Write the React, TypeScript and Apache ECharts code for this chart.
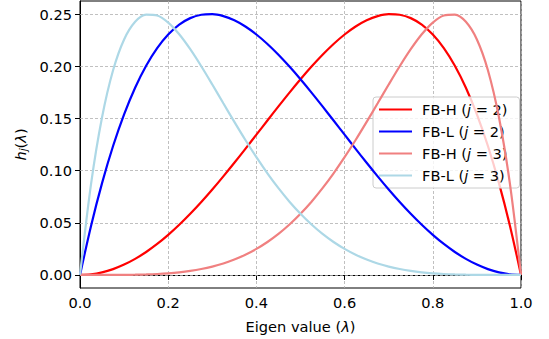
import React, { useEffect, useRef } from "react";
import * as echarts from "echarts";

const xs = [0, 0.025, 0.05, 0.075, 0.1, 0.125, 0.15, 0.175, 0.2, 0.225, 0.25, 0.275, 0.3, 0.325, 0.35, 0.375, 0.4, 0.425, 0.45, 0.475, 0.5, 0.525, 0.55, 0.575, 0.6, 0.625, 0.65, 0.675, 0.7, 0.725, 0.75, 0.775, 0.8, 0.825, 0.85, 0.875, 0.9, 0.925, 0.95, 0.975, 1];

const fbH2 = [0, 0.000625, 0.002494, 0.005593, 0.0099, 0.015381, 0.021994, 0.029687, 0.0384, 0.048062, 0.058594, 0.069906, 0.0819, 0.094468, 0.107494, 0.12085, 0.1344, 0.148, 0.161494, 0.174718, 0.1875, 0.199656, 0.210994, 0.221312, 0.2304, 0.238037, 0.243994, 0.248031, 0.2499, 0.249343, 0.246094, 0.239875, 0.2304, 0.217375, 0.200494, 0.179443, 0.1539, 0.123531, 0.087994, 0.046937, 0];

const fbL2 = [0, 0.046937, 0.087994, 0.123531, 0.1539, 0.179443, 0.200494, 0.217375, 0.2304, 0.239875, 0.246094, 0.249343, 0.2499, 0.248031, 0.243994, 0.238037, 0.2304, 0.221312, 0.210994, 0.199656, 0.1875, 0.174718, 0.161494, 0.148, 0.1344, 0.12085, 0.107494, 0.094468, 0.0819, 0.069906, 0.058594, 0.048062, 0.0384, 0.029687, 0.021994, 0.015381, 0.0099, 0.005593, 0.002494, 0.000625, 0];

const fbH3 = [0, 0, 0.000006, 0.000032, 0.0001, 0.000244, 0.000506, 0.000938, 0.001597, 0.002556, 0.003891, 0.005686, 0.008034, 0.011033, 0.014781, 0.019384, 0.024945, 0.031561, 0.039325, 0.048316, 0.058594, 0.070198, 0.083133, 0.097364, 0.112804, 0.129305, 0.146642, 0.164499, 0.182452, 0.199951, 0.216293, 0.230608, 0.241829, 0.24865, 0.249516, 0.24257, 0.225633, 0.196137, 0.151086, 0.087039, 0];

const fbL3 = [0, 0.087039, 0.151086, 0.196137, 0.225633, 0.24257, 0.249516, 0.24865, 0.241829, 0.230608, 0.216293, 0.199951, 0.182452, 0.164499, 0.146642, 0.129305, 0.112804, 0.097364, 0.083133, 0.070198, 0.058594, 0.048316, 0.039325, 0.031561, 0.024945, 0.019384, 0.014781, 0.011033, 0.008034, 0.005686, 0.003891, 0.002556, 0.001597, 0.000938, 0.000506, 0.000244, 0.0001, 0.000032, 0.000006, 0, 0];

const yTicks = [0, 0.05, 0.1, 0.15, 0.2, 0.25];

const seriesDefs = [
  { name: "FB-H (j = 2)", data: fbH2, color: "#ff0000" },
  { name: "FB-L (j = 2)", data: fbL2, color: "#0000ff" },
  { name: "FB-H (j = 3)", data: fbH3, color: "#f08080" },
  { name: "FB-L (j = 3)", data: fbL3, color: "#add8e6" },
];

const FONT = "DejaVu Sans";
const FS = 14.6;

export default function App() {
  const ref = useRef<HTMLDivElement>(null);
  useEffect(() => {
    document.body.style.margin = "0";
    if (!ref.current) return;
    const chart = echarts.init(ref.current, undefined, { renderer: "svg" });
    const series: any[] = seriesDefs.map((s, i) => ({
      name: s.name,
      type: "line",
      data: xs.map((x, k) => [x, s.data[k]]),
      smooth: 0.3,
      symbol: "none",
      showSymbol: false,
      lineStyle: { color: s.color, width: 2.2 },
      itemStyle: { color: s.color },
      z: 3 + i,
      ...(i === 0
        ? {
            markLine: {
              silent: true,
              symbol: "none",
              label: { show: false },
              lineStyle: { color: "#b0b0b0", type: [3, 2], width: 0.8 },
              z: 1,
              data: yTicks.map((v) => ({ yAxis: v })),
            },
          }
        : {}),
    }));
    chart.setOption({
      animation: false,
      backgroundColor: "#ffffff",
      textStyle: { fontFamily: FONT },
      grid: {
        left: 80,
        right: 28,
        top: 1,
        bottom: 49,
        containLabel: false,
        show: true,
        borderColor: "#000",
        borderWidth: 1,
        backgroundColor: "transparent",
      },
      xAxis: {
        type: "value",
        min: 0,
        max: 1,
        interval: 0.2,
        name: "{n|Eigen value (}{i|λ}{n|)}",
        nameLocation: "middle",
        nameGap: 31,
        nameTextStyle: {
          rich: {
            n: { fontFamily: FONT, fontSize: FS, color: "#000" },
            i: { fontFamily: FONT, fontSize: FS, color: "#000", fontStyle: "italic" },
          },
        },
        axisLine: { show: true, lineStyle: { color: "#000", width: 1 } },
        axisTick: { show: true, length: 5, inside: false, lineStyle: { color: "#000" } },
        axisLabel: {
          color: "#000",
          fontSize: FS,
          fontFamily: FONT,
          margin: 7,
          formatter: (v: number) => v.toFixed(1),
        },
        splitLine: { show: true, lineStyle: { color: "#b0b0b0", type: [3, 2], width: 0.8 } },
      },
      yAxis: {
        type: "value",
        min: -0.0125,
        max: 0.2625,
        name: "{i|h}{s|j}{n|(}{i|λ}{n|)}",
        nameLocation: "middle",
        nameRotate: 90,
        nameGap: 51,
        nameTextStyle: {
          rich: {
            n: { fontFamily: FONT, fontSize: FS, color: "#000" },
            i: { fontFamily: FONT, fontSize: FS, color: "#000", fontStyle: "italic" },
            s: { fontFamily: FONT, fontSize: 10.5, color: "#000", fontStyle: "italic", padding: [6, 0, 0, 0] },
          },
        },
        axisLine: { show: true, onZero: false, lineStyle: { color: "#000", width: 1 } },
        axisTick: { show: true, length: 5, customValues: yTicks, lineStyle: { color: "#000" } },
        axisLabel: {
          color: "#000",
          fontSize: FS,
          fontFamily: FONT,
          margin: 8,
          customValues: yTicks,
          formatter: (v: number) => v.toFixed(2),
        },
        splitLine: { show: false },
      },
      legend: {
        show: true,
        orient: "vertical",
        left: 373,
        top: 97,
        itemWidth: 33,
        itemHeight: 10,
        itemGap: 7,
        padding: [5, 12, 5, 6],
        backgroundColor: "rgba(255,255,255,0.8)",
        borderColor: "#cccccc",
        borderWidth: 1,
        borderRadius: 3,
        formatter: (name: string) => {
          const m = name.match(/^(.*)\(j = (\d)\)$/);
          if (!m) return name;
          return `{p|${m[1]}(}{i|j}{n| = ${m[2]})}`;
        },
        textStyle: {
          rich: {
            p: { fontFamily: FONT, fontSize: FS, color: "#000", padding: [0, 0, 0, 5] },
            n: { fontFamily: FONT, fontSize: FS, color: "#000" },
            i: { fontFamily: FONT, fontSize: FS, color: "#000", fontStyle: "italic" },
          },
        },
        data: seriesDefs.map((s) => ({ name: s.name, icon: "path://M0,4L33,4L33,6L0,6Z", itemStyle: { color: s.color } })),
      },
      series,
    });
    return () => chart.dispose();
  }, []);
  return <div ref={ref} style={{ width: 549, height: 339 }} />;
}
